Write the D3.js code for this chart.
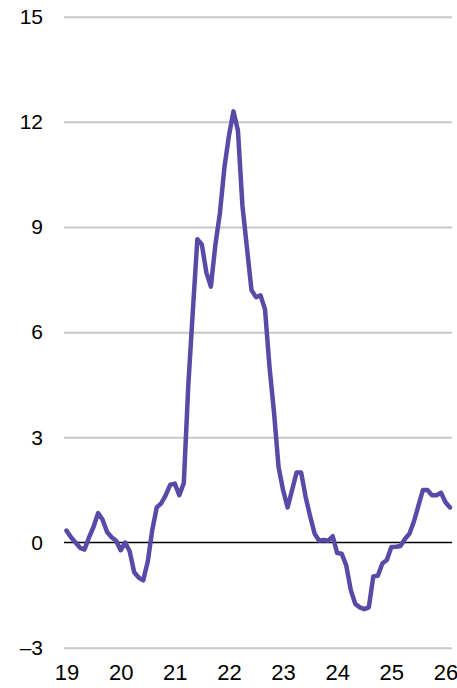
<!DOCTYPE html>
<html>
<head>
<meta charset="utf-8">
<script src="https://cdn.jsdelivr.net/npm/d3@7"></script>
<style>
  body { margin: 0; background: #fff; }
  text { font-family: "Liberation Sans", Arial, sans-serif; }
</style>
</head>
<body>
<div id="chart"></div>
<script>
// monthly values, Jan 2019 .. Feb 2026
var startYear = 2019;
var values = [
  0.34, 0.15, 0.0, -0.15, -0.2, 0.15, 0.45, 0.84, 0.65, 0.3, 0.15, 0.05,
  -0.22, 0.0, -0.25, -0.85, -1.0, -1.08, -0.55, 0.35, 1.0, 1.12, 1.35, 1.65,
  1.68, 1.35, 1.7, 4.5, 6.6, 8.65, 8.5, 7.7, 7.3, 8.5, 9.4, 10.7,
  11.6, 12.3, 11.75, 9.6, 8.4, 7.2, 7.0, 7.05, 6.65, 5.0, 3.7, 2.15,
  1.5, 1.0, 1.5, 2.0, 2.0, 1.3, 0.75, 0.25, 0.05, 0.07, 0.05, 0.18,
  -0.3, -0.32, -0.65, -1.35, -1.75, -1.85, -1.9, -1.85, -0.97, -0.95, -0.6, -0.5,
  -0.13, -0.12, -0.1, 0.1, 0.25, 0.6, 1.05, 1.5, 1.5, 1.35, 1.35, 1.42,
  1.15, 1.0
];
var yTicks = [-3, 0, 3, 6, 9, 12, 15];
var xTicks = [2019, 2020, 2021, 2022, 2023, 2024, 2025, 2026];
var xTickLabels = ["19", "20", "21", "22", "23", "24", "25", "26"];

var data = values.map(function(v, i){
    return { t: startYear + i / 12, v: v };
});

var dimension = {
    width: 457,
    height: 688,
    margin: { top: 0, left: 0, bottom: 0, right: 0 }
};

const svg = d3.select("#chart").append("svg")
    .attr("width", dimension.width)
    .attr("height", dimension.height);

const xScaler = d3.scaleLinear()
    .domain([2019, 2026])
    .range([66.5, 445.5]);

const yScaler = d3.scaleLinear()
    .domain([-3, 15])
    .range([647.7, 16.7]);

// gridlines + y labels
const yAxis = d3.axisLeft(yScaler)
    .tickValues(yTicks)
    .tickSize(0)
    .tickPadding(21)
    .tickFormat(function(d){ return d < 0 ? "\u2013" + Math.abs(d) : d; });

const gy = svg.append("g").attr("transform", "translate(64,0)").call(yAxis);
gy.select(".domain").remove();
gy.selectAll("text")
    .attr("font-size", 21)
    .attr("fill", "#000")
    .style("font-family", "'Liberation Sans', Arial, sans-serif");
gy.selectAll(".tick").filter(function(d){ return d !== 0; })
    .append("line")
    .attr("x1", 0).attr("x2", 452 - 64)
    .attr("stroke", "#c8c8c8")
    .attr("stroke-width", 2);

// zero line
svg.append("line")
    .attr("x1", 64).attr("x2", 452)
    .attr("y1", yScaler(0)).attr("y2", yScaler(0))
    .attr("stroke", "#000")
    .attr("stroke-width", 1.6);

// x labels
const xAxis = d3.axisBottom(xScaler)
    .tickValues(xTicks)
    .tickSize(0)
    .tickPadding(0)
    .tickFormat(function(d, i){ return xTickLabels[i]; });

const gx = svg.append("g").attr("transform", "translate(0,664)").call(xAxis);
gx.select(".domain").remove();
gx.selectAll("text")
    .attr("font-size", 22)
    .attr("fill", "#000")
    .attr("dy", "0.71em")
    .style("font-family", "'Liberation Sans', Arial, sans-serif");

// series
const line = d3.line()
    .x(function(d){ return xScaler(d.t); })
    .y(function(d){ return yScaler(d.v); });

svg.append("path")
    .datum(data)
    .attr("d", line)
    .attr("fill", "none")
    .attr("stroke", "#5a4aa8")
    .attr("stroke-width", 4.5)
    .attr("stroke-linejoin", "round")
    .attr("stroke-linecap", "round");
</script>
</body>
</html>
